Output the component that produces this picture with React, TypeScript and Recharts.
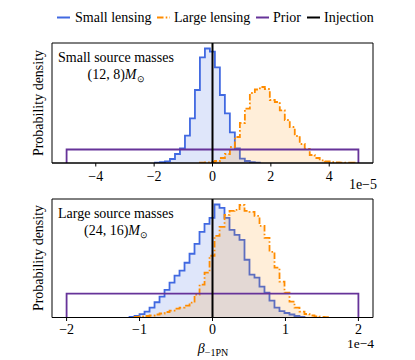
import React from 'react';
import { ComposedChart, Area, XAxis, YAxis, ReferenceLine, ReferenceArea } from 'recharts';

const FONT = 'Liberation Serif, Times New Roman, serif';

const legendLabels = ['Small lensing', 'Large lensing', 'Prior', 'Injection'];
const yAxisLabel = 'Probability density';

// ---- Top panel: small source masses (x in units of 1e-5) ----
const topTitle = ['Small source masses', '(12, 8)'];
const topOffsetText = '1e\u22125';
const topTicks = [-4, -2, 0, 2, 4];
const topDomain: [number, number] = [-5.5, 5.5];
const topYMax = 120;
const topBinWidth = 0.171;
const topSmallStart = -1.97;
const topSmallHeights = [0.3, 0.8, 1.7, 4, 9, 14.7, 27.4, 44.7, 73, 105.7, 114.5, 111.4, 95.7, 68, 49.7, 30.7, 14.7, 4.4, 2, 0.8, 0.3];
const topLargeStart = -0.43;
const topLargeHeights = [0.3, 0.5, 1, 2, 5, 9, 16, 26, 40, 54.4, 70, 73.5, 76, 74, 63, 61, 52.7, 43, 36, 27, 19, 14, 8, 5, 2.7, 1.5, 0.8, 0.5, 0.4, 0.3, 0.3];
const topPriorRange = [-5, 5];
const topPriorHeight = 13.5;

// ---- Bottom panel: large source masses (x in units of 1e-4) ----
const bottomTitle = ['Large source masses', '(24, 16)'];
const bottomOffsetText = '1e\u22124';
const bottomTicks = [-2, -1, 0, 1, 2];
const bottomDomain: [number, number] = [-2.2, 2.2];
const bottomYMax = 119;
const bottomBinWidth = 0.0685;
const bottomSmallStart = -1.137;
const bottomSmallHeights = [0.5, 1.5, 3.3, 6, 10, 15.3, 21, 27.7, 35, 42, 47, 55, 64, 74, 86, 94, 100, 113.5, 110, 100, 88, 83, 78, 58, 43, 40, 31, 25, 17, 10, 6.5, 4.5, 3, 1.5, 0.7];
const bottomLargeStart = -1.068;
const bottomLargeHeights = [0.5, 1, 1.5, 2, 3, 4, 5.5, 7, 9, 10, 12, 15, 23, 33, 45, 62, 82, 91, 103, 107, 108, 113, 107, 106, 102, 92, 80, 66, 50, 36, 25, 16, 10, 6, 3.5, 2, 1.2, 0.6, 0.3];
const bottomPriorRange = [-2, 2];
const bottomPriorHeight = 24;

const injectionValue = 0;

const BLUE = '#4169E1';
const ORANGE = '#FF8C00';
const PURPLE = '#663399';

function toSteps(start: number, width: number, heights: number[]) {
  const pts = [{ x: start, y: 0 }];
  heights.forEach((h, i) => pts.push({ x: start + i * width, y: h }));
  pts.push({ x: start + heights.length * width, y: 0 });
  return pts;
}

function priorSteps(range: number[], h: number) {
  return [
    { x: range[0], y: 0 },
    { x: range[0], y: h },
    { x: range[1], y: 0 },
  ];
}

const fmt = (v: number) => String(v).replace('-', '\u2212');

interface PanelProps {
  top: number;
  marginBottom: number;
  tickMargin: number;
  domain: [number, number];
  ticks: number[];
  yMax: number;
  small: { x: number; y: number }[];
  large: { x: number; y: number }[];
  prior: { x: number; y: number }[];
}

function Panel({ top, marginBottom, tickMargin, domain, ticks, yMax, small, large, prior }: PanelProps) {
  return (
    <div style={{ position: 'absolute', left: 0, top, width: 415, height: 200 }}>
      <ComposedChart width={415} height={200} margin={{ top: 43, right: 42, bottom: marginBottom, left: 52 }} style={{ fontFamily: FONT }}>
        <XAxis
          dataKey="x"
          type="number"
          domain={domain}
          ticks={ticks}
          allowDataOverflow
          interval={0}
          tickSize={3.5}
          tickMargin={tickMargin}
          height={30}
          tick={{ fill: '#000', fontSize: 14, fontFamily: FONT, style: { fontFamily: FONT } }}
          tickLine={{ stroke: '#000' }}
          axisLine={{ stroke: '#000' }}
          tickFormatter={fmt}
        />
        <YAxis type="number" domain={[0, yMax]} hide allowDataOverflow />
        <Area data={small} dataKey="y" type="stepAfter" stroke={BLUE} strokeWidth={1.8} fill={BLUE} fillOpacity={0.17} isAnimationActive={false} dot={false} activeDot={false} />
        <Area data={large} dataKey="y" type="stepAfter" stroke={ORANGE} strokeWidth={1.8} strokeDasharray="6.5 2.2 1.6 2.2" fill={ORANGE} fillOpacity={0.15} isAnimationActive={false} dot={false} activeDot={false} />
        <Area data={prior} dataKey="y" type="stepAfter" stroke={PURPLE} strokeWidth={1.8} fill="none" fillOpacity={0} isAnimationActive={false} dot={false} activeDot={false} />
        <ReferenceLine x={injectionValue} stroke="#000" strokeWidth={2} />
        <ReferenceArea x1={domain[0]} x2={domain[1]} y1={0} y2={yMax} fill="none" fillOpacity={0} stroke="#000" strokeWidth={1} ifOverflow="visible" />
      </ComposedChart>
    </div>
  );
}

function Overlay() {
  const legendColors = [BLUE, ORANGE, PURPLE, '#000'];
  const legendDash = [undefined, '6.5 2.2 1.6 2.2', undefined, undefined];
  const legendLineX = [57, 157, 256, 307];
  const legendTextX = [75, 174, 273, 324];
  const ts = { fontFamily: FONT };
  return (
    <svg width={415} height={360} style={{ position: 'absolute', left: 0, top: 0, pointerEvents: 'none', fontFamily: FONT }}>
      {legendLabels.map((lab, i) => (
        <g key={lab}>
          <line x1={legendLineX[i]} x2={legendLineX[i] + 13} y1={17.5} y2={17.5} stroke={legendColors[i]} strokeWidth={2} strokeDasharray={legendDash[i]} />
          <text x={legendTextX[i]} y={22} fontSize={14} fill="#000" style={ts}>{lab}</text>
        </g>
      ))}
      <text transform="translate(43,103) rotate(-90)" textAnchor="middle" fontSize={14} fill="#000" style={ts}>{yAxisLabel}</text>
      <text transform="translate(43,258) rotate(-90)" textAnchor="middle" fontSize={14} fill="#000" style={ts}>{yAxisLabel}</text>

      <text x={58} y={62} fontSize={14} fill="#000" style={ts}>{topTitle[0]}</text>
      <text x={116} y={79} fontSize={14} fill="#000" textAnchor="middle" style={ts}>
        <tspan>{topTitle[1]}</tspan>
        <tspan fontStyle="italic">M</tspan>
        <tspan fontSize={9} dy={3}>{'\u2299'}</tspan>
      </text>
      <text x={58} y={218} fontSize={14} fill="#000" style={ts}>{bottomTitle[0]}</text>
      <text x={116} y={235} fontSize={14} fill="#000" textAnchor="middle" style={ts}>
        <tspan>{bottomTitle[1]}</tspan>
        <tspan fontStyle="italic">M</tspan>
        <tspan fontSize={9} dy={3}>{'\u2299'}</tspan>
      </text>

      <text x={377} y={189} fontSize={14} fill="#000" textAnchor="end" style={ts}>{topOffsetText}</text>
      <text x={374} y={348} fontSize={13.5} fill="#000" textAnchor="end" style={ts}>{bottomOffsetText}</text>

      <text x={213} y={353} fontSize={14} fill="#000" textAnchor="middle" style={ts}>
        <tspan fontStyle="italic">{'\u03B2'}</tspan>
        <tspan fontSize={10} dy={3}>{'\u22121PN'}</tspan>
      </text>
    </svg>
  );
}

export default function App() {
  return (
    <div style={{ position: 'absolute', left: 0, top: 0, width: 415, height: 360, background: '#fff', overflow: 'hidden' }}>
      <Panel
        top={0}
        marginBottom={7}
        tickMargin={5}
        domain={topDomain}
        ticks={topTicks}
        yMax={topYMax}
        small={toSteps(topSmallStart, topBinWidth, topSmallHeights)}
        large={toSteps(topLargeStart, topBinWidth, topLargeHeights)}
        prior={priorSteps(topPriorRange, topPriorHeight)}
      />
      <Panel
        top={156}
        marginBottom={8.5}
        tickMargin={3.5}
        domain={bottomDomain}
        ticks={bottomTicks}
        yMax={bottomYMax}
        small={toSteps(bottomSmallStart, bottomBinWidth, bottomSmallHeights)}
        large={toSteps(bottomLargeStart, bottomBinWidth, bottomLargeHeights)}
        prior={priorSteps(bottomPriorRange, bottomPriorHeight)}
      />
      <Overlay />
    </div>
  );
}
